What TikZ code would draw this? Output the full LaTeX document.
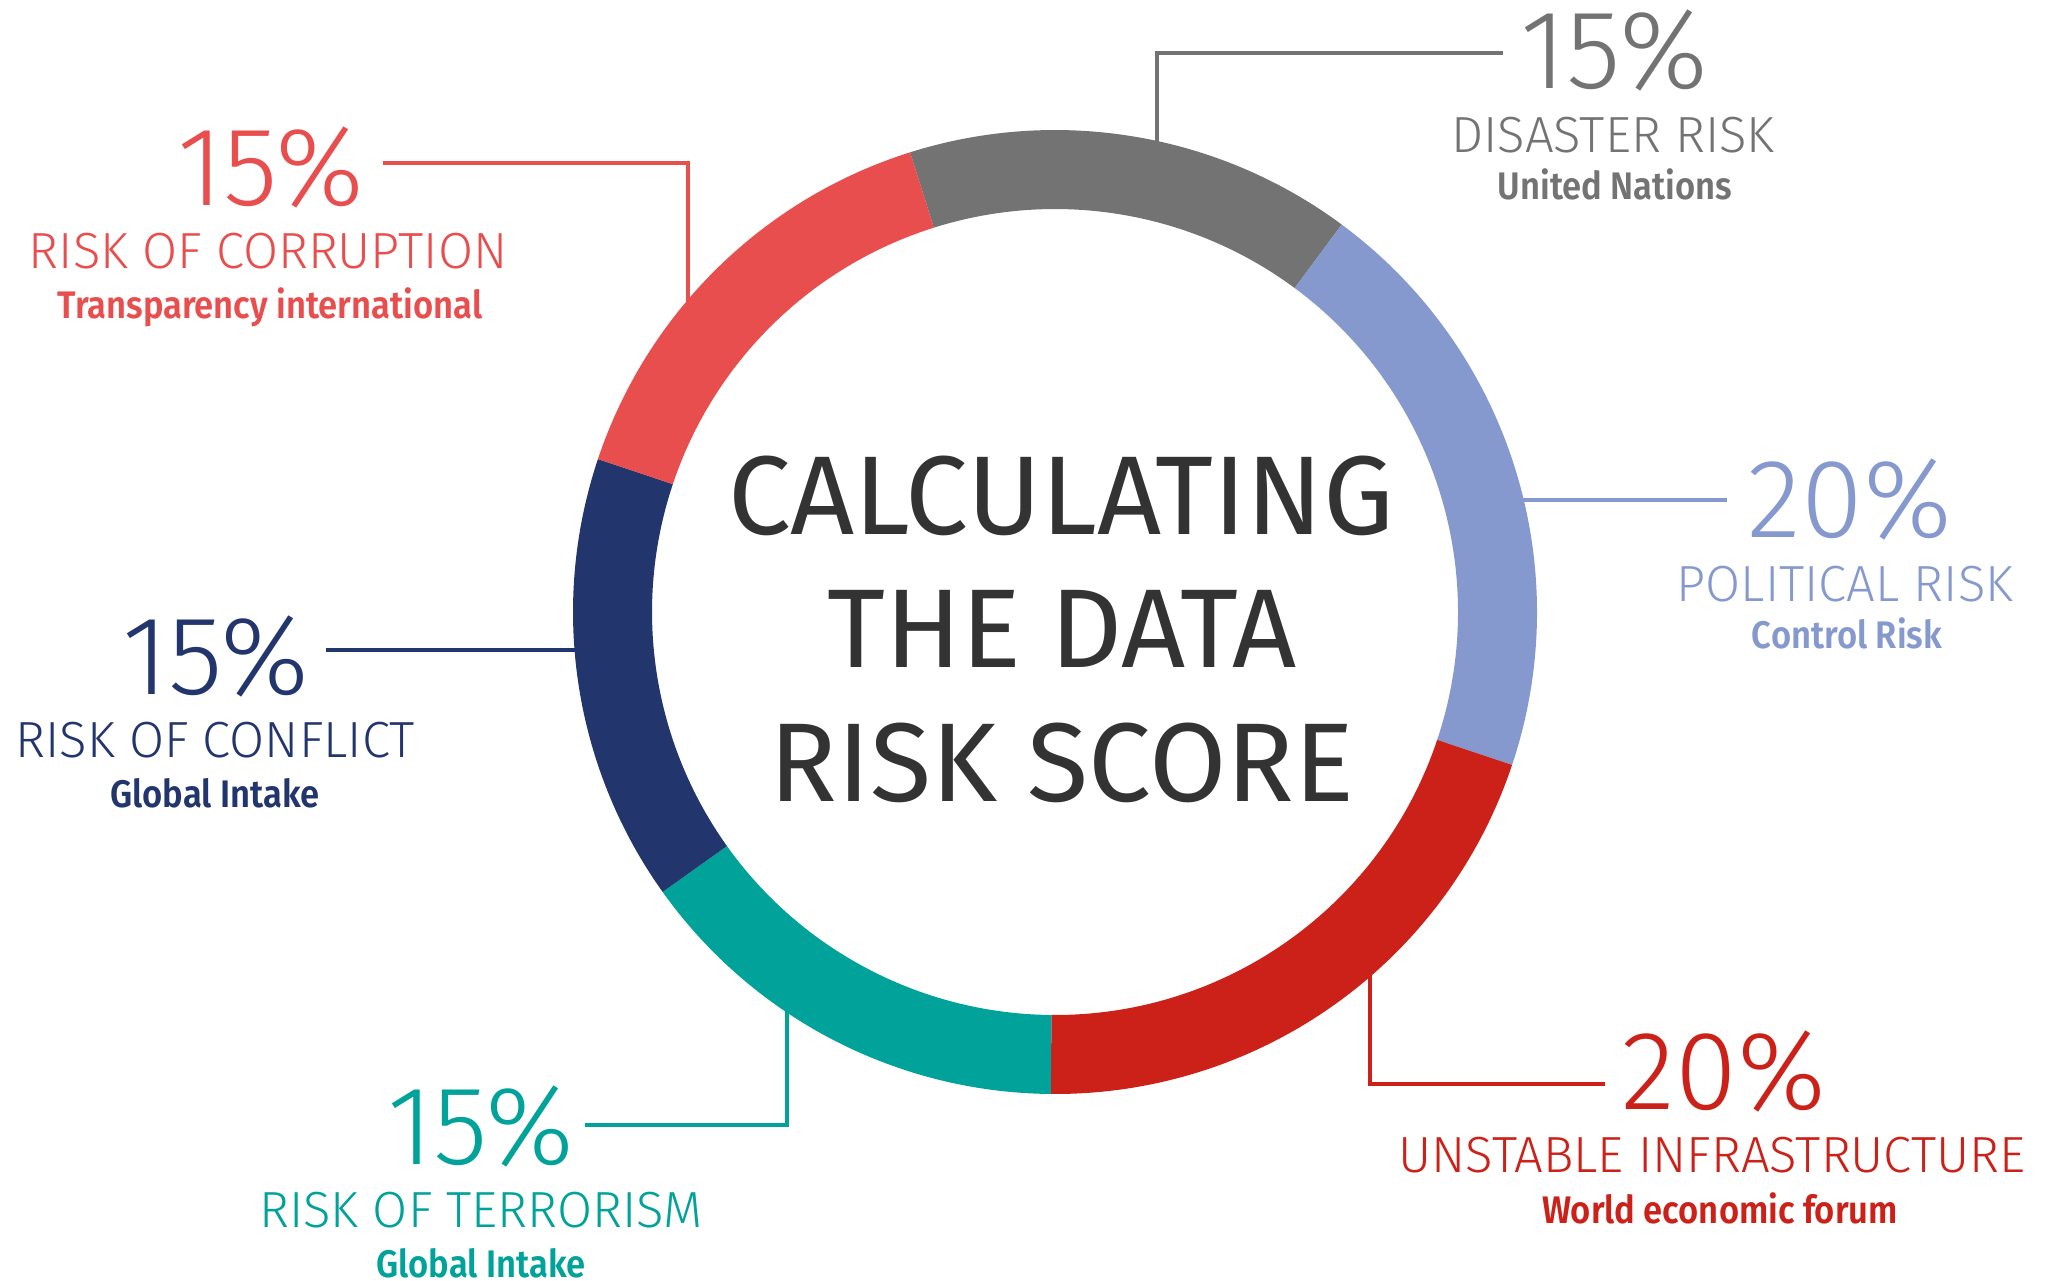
\documentclass[tikz,border=0pt]{standalone}
\usepackage{fontspec}
\setmainfont{Fira Sans Light}
\newfontfamily\srcfont{Fira Sans SemiBold}[FakeStretch=0.9]
\newfontfamily\titlefont{Fira Sans}

\definecolor{dgray}{HTML}{737373}
\definecolor{lblue}{HTML}{8599CF}
\definecolor{ired}{HTML}{CB2119}
\definecolor{teal}{HTML}{00A29A}
\definecolor{navy}{HTML}{22356D}
\definecolor{coral}{HTML}{E94E4E}
\definecolor{txt}{HTML}{333333}

\begin{document}
\begin{tikzpicture}[
  x=0.5pt, y=0.5pt,
  pct/.style={
    anchor=base, inner sep=0pt, font=\fontsize{56}{56}\selectfont
  },
  cat/.style={
    anchor=base, inner sep=0pt, font=\fontsize{25.4}{26}\selectfont
  },
  src/.style={
    anchor=base, inner sep=0pt, font=\srcfont\fontsize{19.2}{19}\selectfont
  },
  ttl/.style={
    anchor=base, inner sep=0pt, text=txt, font=\titlefont\fontsize{56}{56}\selectfont
  },
  leader/.style={line width=2pt}
  ]
  \useasboundingbox (0,0) rectangle (2060,-1280);
  \coordinate (c) at (1055,-612);

  % leader lines, ring drawn over their inner ends
  \coordinate (gray-r) at (1157,-181);
  \coordinate (gray-e) at (1503,-53);
  \coordinate (coral-r) at (688,-365);
  \coordinate (coral-e) at (383,-163);
  \coordinate (blue-r) at (1483,-500);
  \coordinate (blue-e) at (1727,-500);
  \coordinate (navy-r) at (614,-650);
  \coordinate (navy-e) at (326,-650);
  \coordinate (teal-r) at (787,-964);
  \coordinate (teal-e) at (585,-1125);
  \coordinate (red-r) at (1370,-923);
  \coordinate (red-e) at (1605,-1084);
  \draw[leader, dgray] (gray-r) |- (gray-e);
  \draw[leader, coral] (coral-r) |- (coral-e);
  \draw[leader, lblue] (blue-r) -- (blue-e);
  \draw[leader, navy] (navy-r) -- (navy-e);
  \draw[leader, teal] (teal-r) |- (teal-e);
  \draw[leader, ired] (red-r) |- (red-e);

  % ring
  \foreach \a/\b/\col in {107.5/53.5/dgray, 53.5/-18.5/lblue,
      -18.5/-90.5/ired, -90.5/-144.5/teal, -144.5/-198.5/navy,
      -198.5/-252.5/coral}
    \fill[\col] (c) ++(\a:482) arc[start angle=\a, end angle=\b, radius=482]
      -- ++(\b:-79) arc[start angle=\b, end angle=\a, radius=403] -- cycle;

  % centre
  \node[ttl] (ttl-a) at (1061,-534) {CALCULATING};
  \node[ttl] (ttl-b) at (1062,-667) {THE DATA};
  \node[ttl] (ttl-c) at (1062,-801) {RISK SCORE};

  % disaster risk
  \node[pct, dgray] (p-gray) at (1614,-88) {15\%};
  \node[cat, dgray] (l-gray) at (1613,-152) {DISASTER RISK};
  \node[src, dgray] (s-gray) at (1615,-199) {United Nations};

  % corruption
  \node[pct, coral] (p-coral) at (271,-205) {15\%};
  \node[cat, coral] (l-coral) at (268,-268) {RISK OF CORRUPTION};
  \node[src, coral] (s-coral) at (270,-318) {Transparency international};

  % political
  \node[pct, lblue] (p-blue) at (1850,-537) {20\%};
  \node[cat, lblue] (l-blue) at (1845,-601) {POLITICAL RISK};
  \node[src, lblue] (s-blue) at (1847,-648) {Control Risk};

  % conflict
  \node[pct, navy] (p-navy) at (216,-694) {15\%};
  \node[cat, navy] (l-navy) at (215,-757) {RISK OF CONFLICT};
  \node[src, navy] (s-navy) at (215,-807) {Global Intake};

  % terrorism
  \node[pct, teal] (p-teal) at (481,-1164) {15\%};
  \node[cat, teal] (l-teal) at (481,-1227) {RISK OF TERRORISM};
  \node[src, teal] (s-teal) at (481,-1277) {Global Intake};

  % infrastructure
  \node[pct, ired] (p-red) at (1724,-1109) {20\%};
  \node[cat, ired] (l-red) at (1712,-1172) {UNSTABLE INFRASTRUCTURE};
  \node[src, ired] (s-red) at (1720,-1223) {World economic forum};
\end{tikzpicture}
\end{document}
